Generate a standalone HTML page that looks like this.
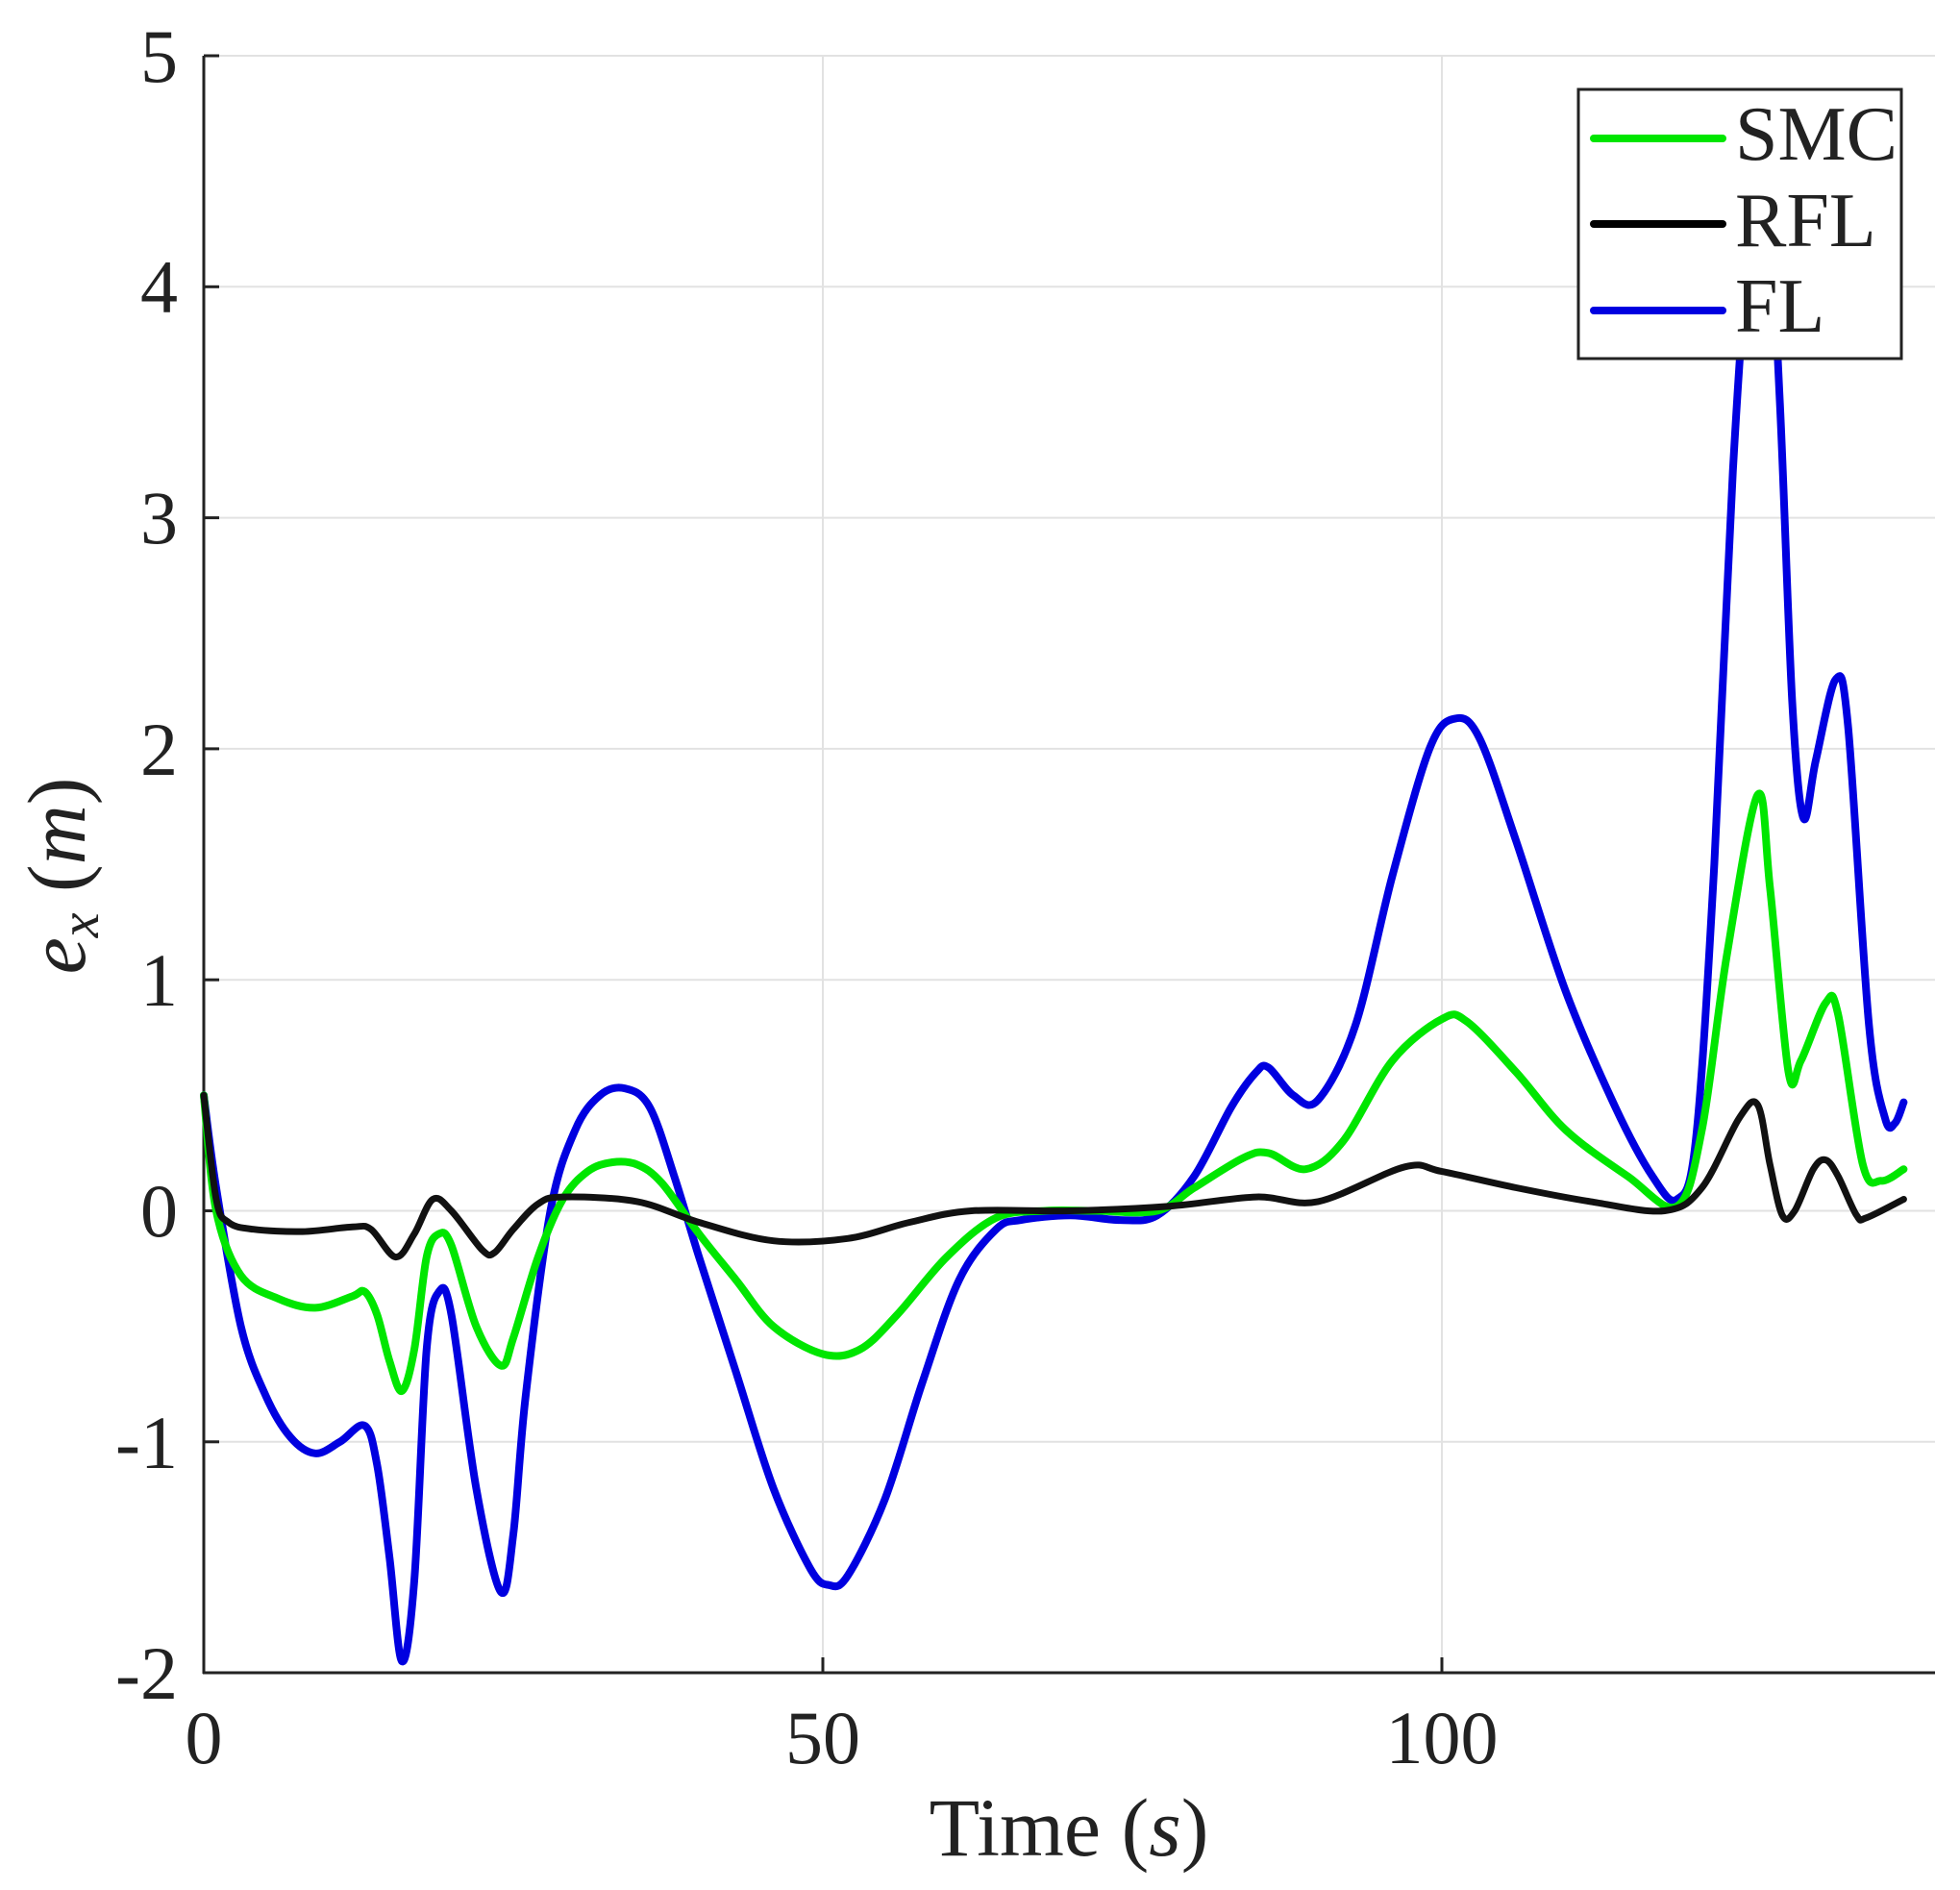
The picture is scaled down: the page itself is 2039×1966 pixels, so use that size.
<!DOCTYPE html>
<html><head><meta charset="utf-8"><style>
html,body{margin:0;padding:0;background:#fff;}
svg{display:block;}
text{font-family:"Liberation Serif",serif;fill:#222;}
</style></head><body>
<svg id="s" width="2039" height="1966" viewBox="0 0 2039 1966" xmlns="http://www.w3.org/2000/svg">
<rect width="2039" height="1966" fill="#fff"/>
<g stroke="#e2e2e2" stroke-width="2">
<line x1="212" y1="58" x2="2013" y2="58"/>
<line x1="212" y1="298.3" x2="2013" y2="298.3"/>
<line x1="212" y1="538.6" x2="2013" y2="538.6"/>
<line x1="212" y1="778.9" x2="2013" y2="778.9"/>
<line x1="212" y1="1019.2" x2="2013" y2="1019.2"/>
<line x1="212" y1="1259.5" x2="2013" y2="1259.5"/>
<line x1="212" y1="1499.8" x2="2013" y2="1499.8"/>
<line x1="856" y1="58" x2="856" y2="1740"/>
<line x1="1500" y1="58" x2="1500" y2="1740"/>
</g>
<g stroke="#222" stroke-width="3">
<line x1="212" y1="58" x2="212" y2="1741"/>
<line x1="211" y1="1740" x2="2013" y2="1740"/>
<line x1="212" y1="58" x2="228" y2="58"/>
<line x1="212" y1="298.3" x2="228" y2="298.3"/>
<line x1="212" y1="538.6" x2="228" y2="538.6"/>
<line x1="212" y1="778.9" x2="228" y2="778.9"/>
<line x1="212" y1="1019.2" x2="228" y2="1019.2"/>
<line x1="212" y1="1259.5" x2="228" y2="1259.5"/>
<line x1="212" y1="1499.8" x2="228" y2="1499.8"/>
<line x1="856" y1="1740" x2="856" y2="1724"/>
<line x1="1500" y1="1740" x2="1500" y2="1724"/>
</g>
<g font-size="78" text-anchor="end">
<text x="185" y="85">5</text>
<text x="185" y="325">4</text>
<text x="185" y="565">3</text>
<text x="185" y="806">2</text>
<text x="185" y="1046">1</text>
<text x="185" y="1286">0</text>
<text x="185" y="1527">-1</text>
<text x="185" y="1767">-2</text>
</g>
<g font-size="78" text-anchor="middle">
<text x="212" y="1834">0</text>
<text x="856" y="1834">50</text>
<text x="1500" y="1834">100</text>
</g>
<text x="1112" y="1930" font-size="86" text-anchor="middle">Time (<tspan font-style="italic">s</tspan>)</text>
<text transform="translate(88,911) rotate(-90)" font-size="86" text-anchor="middle"><tspan font-style="italic">e</tspan><tspan font-style="italic" font-size="58" dy="14">x</tspan><tspan dy="-14"> (</tspan><tspan font-style="italic">m</tspan>)</text>
<g id="curves" fill="none" stroke-width="8" stroke-linejoin="round" stroke-linecap="round"></g>
<rect x="1642" y="93" width="336" height="280" fill="#fff" stroke="#222" stroke-width="3"/>
<g stroke-width="8" stroke-linecap="round">
<line x1="1658" y1="144" x2="1792" y2="144" stroke="#00e600"/>
<line x1="1658" y1="233" x2="1792" y2="233" stroke="#000"/>
<line x1="1658" y1="323" x2="1792" y2="323" stroke="#0000e0"/>
</g>
<g font-size="80">
<text x="1805" y="166">SMC</text>
<text x="1805" y="256">RFL</text>
<text x="1805" y="345">FL</text>
</g>
</svg>
<script>
function X(t){return 212+t*12.88;}
function Y(v){return 1259.5-v*240.3;}
function path(d){
  var p=d.map(function(a){return [X(a[0]),Y(a[1])];});
  var s="M"+p[0][0].toFixed(1)+","+p[0][1].toFixed(1);
  for(var i=0;i<p.length-1;i++){
    var p0=p[i-1]||p[i],p1=p[i],p2=p[i+1],p3=p[i+2]||p[i+1];
    var c1=[p1[0]+(p2[0]-p0[0])/6,p1[1]+(p2[1]-p0[1])/6];
    var c2=[p2[0]-(p3[0]-p1[0])/6,p2[1]-(p3[1]-p1[1])/6];
    s+=" C"+c1[0].toFixed(1)+","+c1[1].toFixed(1)+" "+c2[0].toFixed(1)+","+c2[1].toFixed(1)+" "+p2[0].toFixed(1)+","+p2[1].toFixed(1);
  }
  return s;
}
var rfl=[[0,0.5],[1,0.05],[2,-0.05],[4,-0.08],[8,-0.09],[12,-0.07],[13.5,-0.08],[15.5,-0.2],[17,-0.1],[18.5,0.05],[20,0.0],[22.5,-0.17],[23.5,-0.18],[25,-0.08],[27,0.03],[29,0.06],[35,0.04],[40,-0.05],[46,-0.13],[52,-0.12],[57,-0.05],[62,0.0],[70,0.0],[78,0.02],[85,0.06],[90,0.04],[97,0.19],[100,0.17],[106,0.1],[112,0.04],[118,0.0],[121,0.1],[124,0.4],[125.5,0.46],[126.5,0.2],[127.5,-0.02],[128.5,0.0],[130,0.18],[131,0.22],[132,0.15],[133.5,-0.02],[134.3,-0.03],[137.3,0.05]];
var smc=[[0,0.5],[1,0.0],[3,-0.28],[6,-0.38],[9,-0.42],[12,-0.37],[13,-0.35],[14,-0.45],[15,-0.65],[16,-0.78],[17,-0.6],[18,-0.2],[19,-0.1],[20,-0.15],[22,-0.5],[24,-0.67],[25,-0.55],[27,-0.2],[29,0.05],[31,0.17],[33,0.21],[35,0.2],[37,0.12],[40,-0.1],[43,-0.3],[46,-0.5],[50,-0.62],[53,-0.6],[56,-0.45],[60,-0.2],[64,-0.03],[68,0.0],[72,0.0],[77,0.0],[80,0.1],[84,0.23],[86,0.25],[89,0.18],[92,0.3],[96,0.65],[100,0.83],[102,0.82],[106,0.6],[110,0.35],[115,0.15],[119,0.02],[121,0.35],[123,1.1],[125.5,1.8],[126.5,1.4],[128,0.6],[129,0.65],[131,0.9],[132,0.85],[134,0.2],[135.5,0.13],[137.3,0.18]];
var fl=[[0,0.5],[1,0.1],[3,-0.5],[5,-0.8],[7,-0.98],[9,-1.05],[11,-1.0],[13,-0.93],[14,-1.1],[15,-1.5],[16,-1.95],[17,-1.6],[18,-0.6],[19,-0.35],[20,-0.45],[22,-1.2],[24,-1.65],[25,-1.4],[26,-0.8],[28,0.0],[30,0.35],[32,0.5],[34,0.53],[36,0.45],[38,0.15],[40,-0.2],[43,-0.7],[46,-1.2],[49,-1.55],[50.5,-1.62],[52,-1.58],[55,-1.25],[58,-0.75],[61,-0.3],[64,-0.08],[66,-0.04],[70,-0.02],[74,-0.04],[77,-0.02],[80,0.15],[83,0.45],[85,0.6],[86,0.62],[88,0.5],[90,0.48],[93,0.8],[96,1.45],[99,2.0],[101,2.13],[103,2.05],[106,1.6],[110,0.95],[114,0.45],[117,0.15],[119,0.05],[120.5,0.3],[122,1.5],[123.5,3.2],[125,4.3],[126.2,4.5],[127.3,3.5],[128.3,2.2],[129.2,1.7],[130.2,1.95],[131.8,2.3],[132.8,2.1],[134.5,0.8],[135.8,0.4],[136.6,0.38],[137.3,0.47]];
var g=document.getElementById("curves");
[[fl,"#0000e0"],[smc,"#00e600"],[rfl,"#111"]].forEach(function(c){
  var e=document.createElementNS("http://www.w3.org/2000/svg","path");
  e.setAttribute("d",path(c[0]));e.setAttribute("stroke",c[1]);
  if(c[1]=="#111")e.setAttribute("stroke-width","7");
  g.appendChild(e);
});
</script>
</body></html>
